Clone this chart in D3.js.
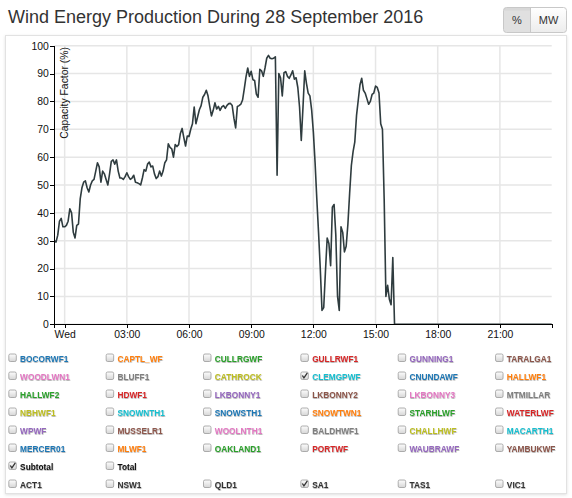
<!DOCTYPE html>
<html lang="en">
<head>
  <meta charset="UTF-8" />
  <title>Wind Energy Production During 28 September 2016</title>
  <script src="https://d3js.org/d3.v7.min.js"></script>
  <style>
    body { margin:0; background:#fff; font-family:"Liberation Sans", Arial, sans-serif; }
    svg { display:block; }
    .grid line { stroke:#e6e6e6; stroke-width:1.5; }
    .axis path, .axis line { stroke:#000; shape-rendering:crispEdges; }
    .axis text { font-size:10.4px; fill:#111; font-family:"Liberation Sans", Arial, sans-serif; }
    .legend text { font-size:8.3px; font-weight:bold; font-family:"Liberation Sans", Arial, sans-serif; }
  </style>
</head>
<body>
  <div id="chart"></div>

  <script>
    const width = 572, height = 498;

    // capacity factor (%) of the subtotal, 5-minute readings from 27 Sep 23:30
    const startTime = '2016-09-27 23:30';
    const stepMinutes = 5;
    const capacityFactor = [
      30, 29.5, 32, 37, 38, 35, 35, 35.5, 37, 41.5,
      40, 33, 31, 35.5, 36, 45, 49, 51, 51.5, 49,
      47.5, 50, 51.5, 52, 55, 58, 56.5, 51, 55, 54,
      52, 50, 54, 58.5, 59, 57.5, 59, 55, 52.5, 52.5,
      52, 53, 54.4, 53, 52, 52.5, 53.5, 51, 50.8, 50.5,
      50, 52.5, 55.5, 55, 57.5, 58.2, 56.5, 56.8, 54, 52.3,
      53, 55, 53.2, 55, 58, 59, 64.8, 63.5, 63, 60,
      64.5, 63.8, 64.5, 68.5, 70.3, 67, 64, 67.6, 67.4,
      70, 72, 78, 72, 74.5, 77, 78.5, 81.5, 82.5, 84,
      82, 78.2, 74.8, 76.8, 79.5, 77.3, 78.2, 76.8, 78, 78.5,
      77.5, 78.6, 79.2, 79.3, 78.5, 74, 70.5, 78.2, 78.5, 79,
      80.5, 84.5, 88.8, 92, 89, 90.8, 87.8, 87.5, 82.6, 81.5,
      91.5, 91, 89,
      92, 95.5, 96.5, 95.5, 95.3, 95.5, 96, 53.5, 90, 88.5,
      82, 90.3, 90.7, 89, 88.3, 89.5, 91, 88, 88.5, 85,
      78, 66, 78, 91, 86.5, 83, 82, 77, 69, 58,
      45, 33, 20, 5, 6, 19, 31, 29, 21, 42,
      43, 32, 10, 5, 35, 33, 26, 28, 36, 47,
      57, 62, 65.5, 75, 80.5, 86, 88.3, 84, 83, 81,
      79, 80, 82.5, 83, 85.5, 85, 83, 72, 70, 45,
      10, 14, 9, 7, 24, 0,
      0, 0, 0, 0, 0, 0, 0, 0, 0, 0, 0, 0, 0, 0, 0, 0, 0, 0, 0, 0,
      0, 0, 0, 0, 0, 0, 0, 0, 0, 0, 0, 0, 0, 0, 0, 0, 0, 0, 0, 0,
      0, 0, 0, 0, 0, 0, 0, 0, 0, 0, 0, 0, 0, 0, 0, 0, 0, 0, 0, 0,
      0, 0, 0, 0, 0, 0, 0, 0, 0, 0, 0, 0, 0, 0, 0, 0, 0, 0, 0, 0,
      0, 0, 0, 0, 0, 0, 0, 0, 0, 0, 0
    ];

    const yTicks = [0, 10, 20, 30, 40, 50, 60, 70, 80, 90, 100];

    const stations = [
      'BOCORWF1', 'CAPTL_WF', 'CULLRGWF', 'GULLRWF1', 'GUNNING1', 'TARALGA1',
      'WOODLWN1', 'BLUFF1', 'CATHROCK', 'CLEMGPWF', 'CNUNDAWF', 'HALLWF1',
      'HALLWF2', 'HDWF1', 'LKBONNY1', 'LKBONNY2', 'LKBONNY3', 'MTMILLAR',
      'NBHWF1', 'SNOWNTH1', 'SNOWSTH1', 'SNOWTWN1', 'STARHLWF', 'WATERLWF',
      'WPWF', 'MUSSELR1', 'WOOLNTH1', 'BALDHWF1', 'CHALLHWF', 'MACARTH1',
      'MERCER01', 'MLWF1', 'OAKLAND1', 'PORTWF', 'WAUBRAWF', 'YAMBUKWF'
    ];
    const totals = ['Subtotal', 'Total'];
    const regions = ['ACT1', 'NSW1', 'QLD1', 'SA1', 'TAS1', 'VIC1'];
    const checkedItems = ['CLEMGPWF', 'Subtotal', 'SA1'];

    const parse = d3.timeParse('%Y-%m-%d %H:%M');
    const t0 = parse(startTime);
    const series = capacityFactor.map((v, i) => ({ time: d3.timeMinute.offset(t0, i * stepMinutes), cf: v }));

    const plot = { left: 54.3, right: 551.7, top: 45.7, bottom: 324.3 };

    const x = d3.scaleTime()
      .domain([t0, d3.timeHour.offset(t0, 24)])
      .range([plot.left, plot.right]);
    const y = d3.scaleLinear().domain([0, 100]).range([plot.bottom, plot.top]);

    const svg = d3.select('#chart').append('svg')
      .attr('width', width).attr('height', height)
      .attr('viewBox', `0 0 ${width} ${height}`);

    const defs = svg.append('defs');
    const ps = defs.append('filter').attr('id', 'panelShadow')
      .attr('x', '-5%').attr('y', '-5%').attr('width', '110%').attr('height', '110%');
    ps.append('feDropShadow').attr('dx', 0).attr('dy', 1).attr('stdDeviation', 1.5)
      .attr('flood-color', '#000').attr('flood-opacity', 0.12);

    const ts = defs.append('filter').attr('id', 'textShadow')
      .attr('x', '-10%').attr('y', '-40%').attr('width', '120%').attr('height', '180%');
    ts.append('feDropShadow').attr('dx', 0.4).attr('dy', 0.8).attr('stdDeviation', 0.7)
      .attr('flood-color', '#000').attr('flood-opacity', 0.35);

    const grad = defs.append('linearGradient').attr('id', 'boxGrad')
      .attr('x1', 0).attr('y1', 0).attr('x2', 0).attr('y2', 1);
    grad.append('stop').attr('offset', '0%').attr('stop-color', '#fdfdfd');
    grad.append('stop').attr('offset', '100%').attr('stop-color', '#d6d6d6');

    const bgrad = defs.append('linearGradient').attr('id', 'btnGrad')
      .attr('x1', 0).attr('y1', 0).attr('x2', 0).attr('y2', 1);
    bgrad.append('stop').attr('offset', '0%').attr('stop-color', '#ffffff');
    bgrad.append('stop').attr('offset', '100%').attr('stop-color', '#ececec');

    // title
    svg.append('text')
      .attr('x', 8).attr('y', 23)
      .style('font-size', '18px').style('fill', '#333')
      .text('Wind Energy Production During 28 September 2016');

    // % / MW buttons
    const btn = svg.append('g').attr('transform', 'translate(503.5,7.5)');
    defs.append('clipPath').attr('id', 'btnClip')
      .append('rect').attr('width', 63).attr('height', 25).attr('rx', 3);
    const bg = btn.append('g').attr('clip-path', 'url(#btnClip)');
    bg.append('rect').attr('width', 63).attr('height', 25).attr('fill', 'url(#btnGrad)');
    bg.append('rect').attr('width', 27).attr('height', 25).attr('fill', '#e0e0e0');
    bg.append('rect').attr('width', 27).attr('height', 3).attr('fill', '#d2d2d2').attr('opacity', 0.6);
    btn.append('rect').attr('width', 63).attr('height', 25).attr('rx', 3)
      .attr('fill', 'none').attr('stroke', '#c8c8c8');
    btn.append('line').attr('x1', 27).attr('x2', 27).attr('y1', 0).attr('y2', 25).attr('stroke', '#c8c8c8');
    btn.append('text').attr('x', 13.5).attr('y', 16.5).attr('text-anchor', 'middle')
      .style('font-size', '11px').style('fill', '#333').text('%');
    btn.append('text').attr('x', 45).attr('y', 16.5).attr('text-anchor', 'middle')
      .style('font-size', '11px').style('fill', '#333').text('MW');

    // panel
    svg.append('rect')
      .attr('x', 5.5).attr('y', 35.5).attr('width', 561).attr('height', 458)
      .attr('fill', '#fff').attr('stroke', '#e2e2e2')
      .attr('filter', 'url(#panelShadow)');

    const xTicks = d3.timeHour.range(d3.timeDay.ceil(t0), d3.timeHour.offset(t0, 24), 3);
    const fmtTick = d => d.getHours() === 0 ? d3.timeFormat('%a')(d) : d3.timeFormat('%H:%M')(d);

    // grid
    const grid = svg.append('g').attr('class', 'grid');
    grid.selectAll('.h').data(yTicks).join('line').attr('class', 'h')
      .attr('x1', plot.left).attr('x2', plot.right)
      .attr('y1', d => y(d)).attr('y2', d => y(d));
    grid.selectAll('.v').data(xTicks).join('line').attr('class', 'v')
      .attr('x1', d => x(d)).attr('x2', d => x(d))
      .attr('y1', plot.top).attr('y2', plot.bottom);

    // line
    const line = d3.line().x(d => x(d.time)).y(d => y(d.cf));
    svg.append('path').datum(series)
      .attr('d', line)
      .attr('fill', 'none')
      .attr('stroke', '#2f3c3f')
      .attr('stroke-width', 1.6)
      .attr('stroke-linejoin', 'round');

    // axes
    svg.append('g').attr('class', 'axis')
      .attr('transform', `translate(0,${plot.bottom})`)
      .call(d3.axisBottom(x).tickValues(xTicks).tickFormat(fmtTick)
        .tickSize(4).tickSizeOuter(4).tickPadding(2.5));

    const yAxis = svg.append('g').attr('class', 'axis')
      .attr('transform', `translate(${plot.left},0)`)
      .call(d3.axisLeft(y).tickValues(yTicks).tickSize(4).tickSizeOuter(4).tickPadding(1.5));
    yAxis.append('text')
      .attr('transform', 'rotate(-90)')
      .attr('x', -47).attr('y', 6).attr('dy', '.71em')
      .style('text-anchor', 'end')
      .text('Capacity Factor (%)');

    // legend of checkboxes
    const colour = d3.scaleOrdinal(d3.schemeCategory10);
    const items = [];
    stations.forEach((s, i) => items.push({ name: s, row: Math.floor(i / 6), col: i % 6, color: colour(i) }));
    totals.forEach((s, i) => items.push({ name: s, row: 6, col: i, color: '#111' }));
    regions.forEach((s, i) => items.push({ name: s, row: 7, col: i, color: '#333' }));

    const legend = svg.append('g').attr('class', 'legend');
    const item = legend.selectAll('g').data(items).join('g')
      .attr('transform', d => `translate(${8.3 + d.col * 97.35},${358.5 + d.row * 18})`);

    item.append('rect')
      .attr('x', 0.5).attr('y', -4.5).attr('width', 7.5).attr('height', 7.5).attr('rx', 1.5)
      .attr('fill', 'url(#boxGrad)').attr('stroke', '#9a9a9a').attr('stroke-width', 0.8);
    item.filter(d => checkedItems.includes(d.name)).append('path')
      .attr('d', 'M2,-1 L3.6,1.4 L7,-3.6')
      .attr('fill', 'none').attr('stroke', '#333').attr('stroke-width', 1.3);
    item.append('text')
      .attr('x', 11.8).attr('y', 3)
      .attr('fill', d => d.color)
      .attr('filter', 'url(#textShadow)')
      .text(d => d.name);
  </script>
</body>
</html>
